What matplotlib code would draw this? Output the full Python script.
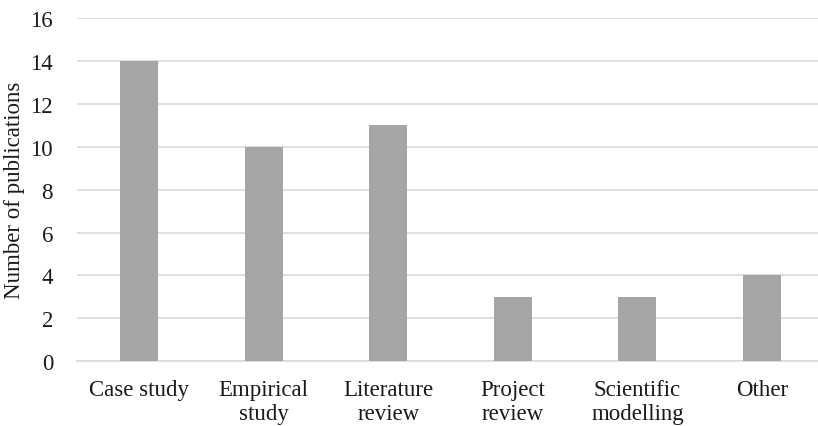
import matplotlib.pyplot as plt

categories = ["Case study", "Empirical\nstudy", "Literature\nreview",
              "Project\nreview", "Scientific\nmodelling", "Other"]
counts = [14, 10, 11, 3, 3, 4]

plt.rcParams["font.family"] = ["Liberation Serif", "DejaVu Serif"]

fig = plt.figure(figsize=(8.18, 4.27), dpi=100)
ax = fig.add_axes([0.0938, 0.152, 0.914, 0.803])

x = range(len(categories))
ax.bar(x, counts, width=0.305, color="#a5a5a5", zorder=3)

ax.set_xlim(-0.5, len(categories) - 0.5)
ax.set_ylim(0, 16)
ax.set_yticks(range(0, 17, 2))
ax.set_xticks(list(x))
ax.set_xticklabels(categories, fontsize=16.5, color="#1a1a1a", va="top",
                   linespacing=1.2)
ax.tick_params(axis="y", labelsize=16.5, labelcolor="#1a1a1a", length=0, pad=17)
ax.tick_params(axis="x", length=0, pad=13)
ax.set_ylabel("Number of publications", fontsize=16.5, color="#1a1a1a",
              labelpad=4)

ax.grid(axis="y", color="#d9d9d9", linewidth=1.2, zorder=0)
for side in ["top", "right", "left"]:
    ax.spines[side].set_visible(False)
ax.spines["bottom"].set_color("#d9d9d9")
ax.spines["bottom"].set_linewidth(1.2)

fig.savefig("out.png", dpi=100)
